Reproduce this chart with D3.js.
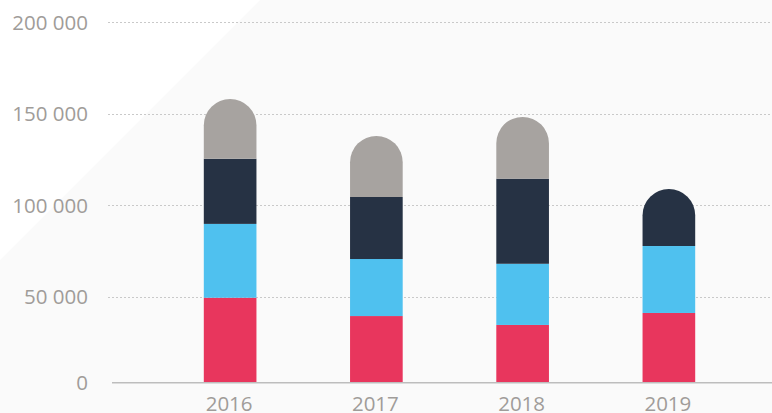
<!DOCTYPE html>
<html>
<head>
<meta charset="utf-8">
<script src="https://cdn.jsdelivr.net/npm/d3@7"></script>
<style>
  html, body { margin: 0; padding: 0; background: #fafafa; }
  svg { display: block; }
</style>
</head>
<body>
<svg id="chart" width="772" height="413"></svg>
<script>
// data
const years = ['2016', '2017', '2018', '2019'];
const seriesRed = [49400, 38700, 33500, 40500];
const seriesBlue = [40400, 31900, 34500, 37200];
const seriesDark = [35600, 33900, 46500, 31200];
const seriesGray = [32700, 33400, 33800, 0];
const yTicks = [0, 50000, 100000, 150000, 200000];

const colors = ['#e8365d', '#4fc1ef', '#263244', '#a7a3a0'];
const layers = [seriesRed, seriesBlue, seriesDark, seriesGray];

const width = 772, height = 413;
const svg = d3.select('#chart');

// background: white triangle top-left, light gray elsewhere
svg.append('rect').attr('width', width).attr('height', height).attr('fill', '#fafafa');
svg.append('path').attr('d', 'M0,0 L260,0 L0,260 Z').attr('fill', '#ffffff');

// y scale (the bottom band is a bit shorter than the others in the original)
const y = d3.scaleLinear()
  .domain([0, 50000, 200000])
  .range([382.3, 296.7, 22.3]);

const x = d3.scaleBand()
  .domain(years)
  .range([157, 742])
  .paddingInner(0.64)
  .paddingOuter(0.32);

// gridlines
svg.append('g')
  .selectAll('line')
  .data(yTicks.filter(d => d > 0))
  .join('line')
  .attr('x1', 108)
  .attr('x2', width)
  .attr('y1', d => Math.round(y(d)) + 0.5)
  .attr('y2', d => Math.round(y(d)) + 0.5)
  .attr('stroke', '#c9c9c9')
  .attr('stroke-width', 1)
  .attr('stroke-dasharray', '2,2');

// y labels
svg.append('g')
  .selectAll('text')
  .data(yTicks)
  .join('text')
  .attr('x', 88)
  .attr('y', d => y(d))
  .attr('dy', '0.36em')
  .attr('text-anchor', 'end')
  .attr('fill', '#a09c99')
  .style('font-family', '"Open Sans", sans-serif')
  .style('font-size', '20.5px')
  .text(d => d3.format(',')(d).replace(/,/g, ' '));

// stacked bars, rounded top on the last segment
const bw = x.bandwidth();
const r = bw / 2;
years.forEach((yr, i) => {
  let base = 0;
  const segs = [];
  layers.forEach((s, k) => {
    if (s[i] > 0) {
      segs.push({ y0: base, y1: base + s[i], color: colors[k] });
      base += s[i];
    }
  });
  segs.forEach((sg, j) => {
    const x0 = x(yr);
    const yb = y(sg.y0), yt = y(sg.y1);
    if (j === segs.length - 1) {
      svg.append('path')
        .attr('d', `M${x0},${yb} L${x0},${yt + r} A${r},${r} 0 0 1 ${x0 + bw},${yt + r} L${x0 + bw},${yb} Z`)
        .attr('fill', sg.color);
    } else {
      svg.append('rect')
        .attr('x', x0)
        .attr('y', yt)
        .attr('width', bw)
        .attr('height', yb - yt)
        .attr('fill', sg.color);
    }
  });
});

// baseline
svg.append('line')
  .attr('x1', 112)
  .attr('x2', width)
  .attr('y1', y(0) + 0.5)
  .attr('y2', y(0) + 0.5)
  .attr('stroke', '#bdbdbd')
  .attr('stroke-width', 1.5);

// x labels
svg.append('g')
  .selectAll('text')
  .data(years)
  .join('text')
  .attr('x', d => x(d) + bw / 2 - 1)
  .attr('y', 411)
  .attr('text-anchor', 'middle')
  .attr('fill', '#a09c99')
  .style('font-family', '"Open Sans", sans-serif')
  .style('font-size', '20.5px')
  .text(d => d);
</script>
</body>
</html>
